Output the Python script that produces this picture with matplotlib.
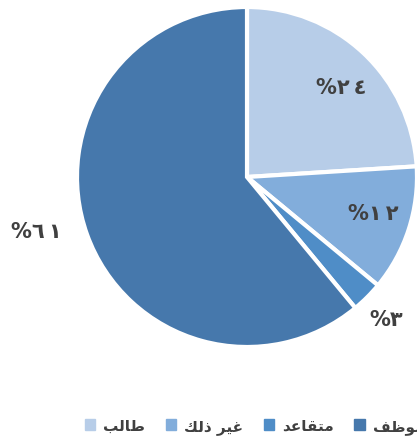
import matplotlib
matplotlib.use("Agg")
import matplotlib.pyplot as plt
import numpy as np

# Data (clockwise from the top)
categories = ["طالب", "غير ذلك", "متقاعد", "موظف"]
shares = [24, 12, 3, 61]
colors = ["#B7CDE8", "#82ADDB", "#4F8DC7", "#4678AC"]
# label placement: (distance from centre, angle in degrees)
label_polar = [(0.77, 43.7), (0.77, -15.9), (1.17, -45.4), (1.28, -165.7)]

# Minimal Arabic shaping: (isolated, final, initial, medial) presentation forms
FORMS = {
    "ا": ("\uFE8D", "\uFE8E", None, None),
    "ب": ("\uFE8F", "\uFE90", "\uFE91", "\uFE92"),
    "ت": ("\uFE95", "\uFE96", "\uFE97", "\uFE98"),
    "د": ("\uFEA9", "\uFEAA", None, None),
    "ذ": ("\uFEAB", "\uFEAC", None, None),
    "ر": ("\uFEAD", "\uFEAE", None, None),
    "ط": ("\uFEC1", "\uFEC2", "\uFEC3", "\uFEC4"),
    "ظ": ("\uFEC5", "\uFEC6", "\uFEC7", "\uFEC8"),
    "ع": ("\uFEC9", "\uFECA", "\uFECB", "\uFECC"),
    "غ": ("\uFECD", "\uFECE", "\uFECF", "\uFED0"),
    "ف": ("\uFED1", "\uFED2", "\uFED3", "\uFED4"),
    "ق": ("\uFED5", "\uFED6", "\uFED7", "\uFED8"),
    "ك": ("\uFED9", "\uFEDA", "\uFEDB", "\uFEDC"),
    "ل": ("\uFEDD", "\uFEDE", "\uFEDF", "\uFEE0"),
    "م": ("\uFEE1", "\uFEE2", "\uFEE3", "\uFEE4"),
    "و": ("\uFEED", "\uFEEE", None, None),
    "ي": ("\uFEF1", "\uFEF2", "\uFEF3", "\uFEF4"),
}


def joins_left(ch):
    return ch in FORMS and FORMS[ch][2] is not None


def shape(word):
    out = []
    for i, ch in enumerate(word):
        if ch not in FORMS:
            out.append(ch)
            continue
        prev = word[i - 1] if i > 0 else ""
        nxt = word[i + 1] if i + 1 < len(word) else ""
        from_prev = joins_left(prev)
        to_next = joins_left(ch) and nxt in FORMS
        iso, fin, ini, med = FORMS[ch]
        if from_prev and to_next:
            out.append(med)
        elif from_prev:
            out.append(fin)
        elif to_next:
            out.append(ini)
        else:
            out.append(iso)
    return "".join(reversed(out))


def arabic_percent(v):
    digits = "\u2009".join(chr(0x0660 + int(d)) for d in str(v))
    return "%" + digits


plt.rcParams["font.family"] = ["DejaVu Sans"]
text_color = "#404040"

fig = plt.figure(figsize=(4.17, 4.39), dpi=100)
ax = fig.add_axes([77 / 417, 91 / 439, 340 / 417, 340 / 439])

wedges, _ = ax.pie(
    shares,
    colors=colors,
    startangle=90,
    counterclock=False,
    radius=1.0,
    wedgeprops=dict(edgecolor="white", linewidth=3),
)
ax.set_xlim(-1, 1)
ax.set_ylim(-1, 1)
ax.set_aspect("equal")
ax.axis("off")

# Percentage labels
for v, (r, ang) in zip(shares, label_polar):
    a = np.deg2rad(ang)
    ax.text(r * np.cos(a), r * np.sin(a), arabic_percent(v),
            ha="center", va="center", fontsize=15, fontweight="bold",
            color=text_color, clip_on=False)

# Legend along the bottom
handles = [plt.Rectangle((0, 0), 1, 1, color=c) for c in colors]
fig.legend(handles, [shape(c) for c in categories], ncol=4,
           loc="center left", bbox_to_anchor=(71 / 417, 1 - 427 / 439),
           frameon=False, handlelength=0.7, handleheight=0.7,
           handletextpad=0.5, columnspacing=1.35,
           prop=dict(size=11, weight="bold"), labelcolor=text_color)

fig.savefig("out.png", dpi=100)
